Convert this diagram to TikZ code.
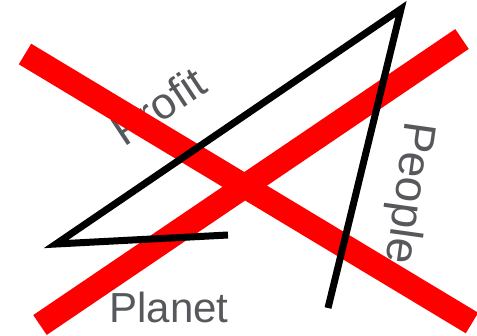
\documentclass[tikz,border=0pt]{standalone}
\usepackage{fontspec}
\setmainfont{Liberation Sans}
\definecolor{labelgray}{RGB}{86,88,92}
\definecolor{crossred}{RGB}{255,0,0}

\begin{document}
\begin{tikzpicture}[
    x=1pt, y=-1pt,
    lbl/.style={text=labelgray, inner sep=0pt, anchor=base, font=\fontsize{44}{50}\selectfont},
    cross/.style={draw=crossred, line width=24pt},
    tri/.style={draw=black, line width=7pt, miter limit=20}
]
\useasboundingbox (0,0) rectangle (477,335);
% labels
\node[lbl, rotate=33.5] (profit) at (167,119) {Profit};
\node[lbl, rotate=-98, font=\fontsize{46}{50}\selectfont] (people) at (396,191) {People};
\node[lbl, font=\fontsize{42}{50}\selectfont] (planet) at (169,322) {Planet};
% corner points
\coordinate (xa) at (25,54);
\coordinate (xb) at (472,323);
\coordinate (xc) at (40,325);
\coordinate (xd) at (462,39);
\coordinate (ta) at (228,235);
\coordinate (tb) at (56,244);
\coordinate (tc) at (401,9);
\coordinate (td) at (328,308);
% the red cross
\draw[cross] (xa) -- (xb);
\draw[cross] (xc) -- (xd);
% black stroke
\draw[tri] (ta) -- (tb) -- (tc) -- (td);
\end{tikzpicture}
\end{document}
